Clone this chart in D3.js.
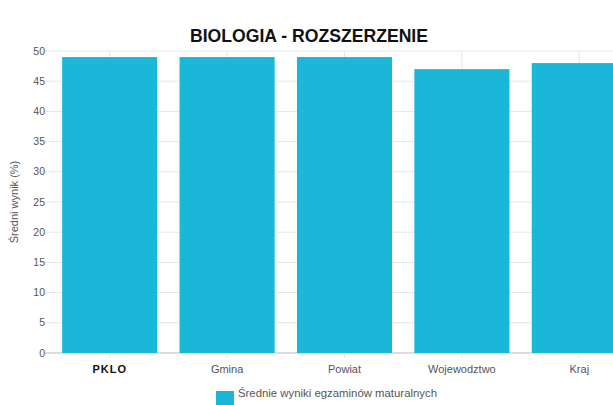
<!DOCTYPE html>
<html><head><meta charset="utf-8">
<script src="https://cdn.jsdelivr.net/npm/d3@7"></script>
<style>body{margin:0;background:#fff}svg{display:block}</style>
</head><body>
<svg id="c" width="613" height="405"></svg>
<script>
const categories = ["PKLO","Gmina","Powiat","Wojewodztwo","Kraj"];
const values = [49,49,49,47,48];
const yTicks = [0,5,10,15,20,25,30,35,40,45,50];
const title = "BIOLOGIA - ROZSZERZENIE";
const yTitle = "Średni wynik (%)";
const legendLabel = "Średnie wyniki egzaminów maturalnych";

(function(){
const svg = d3.select("#c");
const mLeft = 51, mRight = 638, mTop = 51, mBottom = 353;
const color = "#1ab7d9";
const font = "Liberation Sans, Arial, sans-serif";
const x = d3.scaleBand().domain(categories).range([mLeft,mRight]).paddingInner(0.19).paddingOuter(0.095);
const y = d3.scaleLinear().domain([0,50]).range([mBottom,mTop]);

svg.append("g").selectAll("line").data(yTicks).join("line")
  .attr("x1",mLeft-6).attr("x2",613).attr("y1",d=>y(d)).attr("y2",d=>y(d))
  .attr("stroke",d=>d===0?"#bbb":"#e6e6e6").attr("stroke-width",1);
svg.append("g").selectAll("line").data(categories).join("line")
  .attr("x1",d=>x(d)+x.bandwidth()/2).attr("x2",d=>x(d)+x.bandwidth()/2)
  .attr("y1",mTop).attr("y2",mBottom+5)
  .attr("stroke","#e6e6e6");
svg.append("g").selectAll("text").data(yTicks).join("text")
  .attr("x",mLeft-6).attr("y",d=>y(d)).attr("dy","0.35em").attr("text-anchor","end")
  .attr("font-family",font).attr("font-size",10.5).attr("fill","#555")
  .text(d=>d);
svg.append("g").selectAll("rect").data(values).join("rect")
  .attr("x",(d,i)=>x(categories[i])).attr("width",x.bandwidth())
  .attr("y",d=>y(d)).attr("height",d=>mBottom-y(d)).attr("fill",color);
svg.append("g").selectAll("text").data(categories).join("text")
  .attr("x",d=>x(d)+x.bandwidth()/2).attr("y",373).attr("text-anchor","middle")
  .attr("font-family",font).attr("font-size",11)
  .attr("font-weight",d=>d==="PKLO"?"bold":"normal")
  .attr("letter-spacing",d=>d==="PKLO"?1:0)
  .attr("fill",d=>d==="PKLO"?"#111":"#555")
  .text(d=>d);
svg.append("text").attr("transform","translate(18,"+202+") rotate(-90)")
  .attr("text-anchor","middle").attr("font-family",font)
  .attr("font-size",11).attr("fill","#555").text(yTitle);
svg.append("text").attr("x",190).attr("y",42).attr("textLength",238).attr("lengthAdjust","spacingAndGlyphs")
  .attr("font-family",font).attr("font-size",19).attr("font-weight","bold")
  .attr("fill","#111").text(title);
svg.append("rect").attr("x",216).attr("y",391).attr("width",18).attr("height",14).attr("fill",color);
svg.append("text").attr("x",238).attr("y",397).attr("textLength",199).attr("lengthAdjust","spacingAndGlyphs")
  .attr("font-family",font).attr("font-size",10.5).attr("fill","#555").text(legendLabel);
})();
</script>
</body></html>
